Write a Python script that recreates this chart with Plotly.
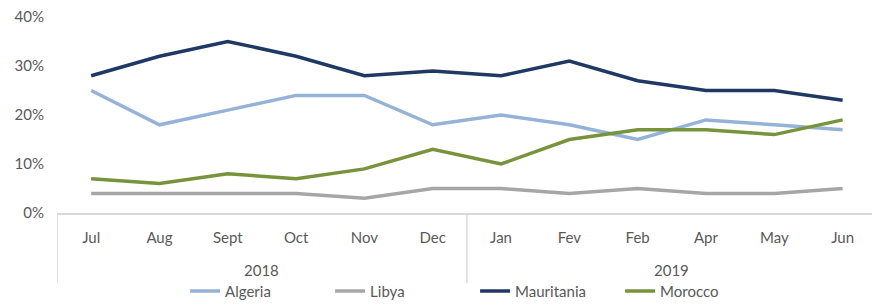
import plotly.graph_objects as go

months = ["Jul", "Aug", "Sept", "Oct", "Nov", "Dec", "Jan", "Fev", "Feb", "Apr", "May", "Jun"]
year_labels = ["2018", "2019"]
year_sizes = [6, 6]

algeria = [0.25, 0.18, 0.21, 0.24, 0.24, 0.18, 0.20, 0.18, 0.15, 0.19, 0.18, 0.17]
libya = [0.04, 0.04, 0.04, 0.04, 0.03, 0.05, 0.05, 0.04, 0.05, 0.04, 0.04, 0.05]
mauritania = [0.28, 0.32, 0.35, 0.32, 0.28, 0.29, 0.28, 0.31, 0.27, 0.25, 0.25, 0.23]
morocco = [0.07, 0.06, 0.08, 0.07, 0.09, 0.13, 0.10, 0.15, 0.17, 0.17, 0.16, 0.19]

series = [
    ("Algeria", algeria, "#95b3d7"),
    ("Libya", libya, "#a6a6a6"),
    ("Mauritania", mauritania, "#1f3864"),
    ("Morocco", morocco, "#77933c"),
]

FONT = "Lato, 'Open Sans', sans-serif"
TXT = "#595959"
fig = go.Figure()
for name, vals, col in series:
    fig.add_trace(go.Scatter(
        x=months, y=vals, name=name, mode="lines",
        line=dict(color=col, width=3.5),
    ))

# year group labels and dividers
start = 0
divider_pos = [-0.5]
for lab, n in zip(year_labels, year_sizes):
    center = start + (n - 1) / 2
    fig.add_annotation(x=center, y=-0.291, xref="x", yref="paper", text=lab,
                       showarrow=False, yanchor="middle",
                       font=dict(family=FONT, size=15, color=TXT))
    start += n
    divider_pos.append(start - 0.5)
for d in divider_pos[:-1]:
    fig.add_shape(type="line", xref="x", yref="paper", x0=d, x1=d, y0=0, y1=-0.357,
                  line=dict(color="#d9d9d9", width=1.5))

fig.update_layout(
    width=872, height=308,
    margin=dict(l=57, r=0, t=17, b=95),
    paper_bgcolor="white", plot_bgcolor="white",
    font=dict(family=FONT, size=15, color=TXT),
    showlegend=True,
    legend=dict(orientation="h", x=0.513, xanchor="center", y=-0.484, yanchor="bottom",
                font=dict(size=15, color=TXT), traceorder="normal",
                entrywidth=100, entrywidthmode="pixels",
                bgcolor="rgba(0,0,0,0)"),
    xaxis=dict(
        type="category", range=[-0.5, 11.43], automargin=False,
        showline=True, linecolor="#d9d9d9", linewidth=1.5,
        showgrid=False, ticks="", ticklabelstandoff=10,
        tickfont=dict(size=15, color=TXT),
    ),
    yaxis=dict(
        range=[0, 0.4], tickformat=".0%", dtick=0.1, automargin=False,
        showgrid=False, zeroline=False, showline=False,
        tickfont=dict(size=15, color=TXT), ticklabelstandoff=12,
    ),
)

fig.write_html("out.html", config={"displayModeBar": False},
               post_script="document.body.style.margin='0';")
